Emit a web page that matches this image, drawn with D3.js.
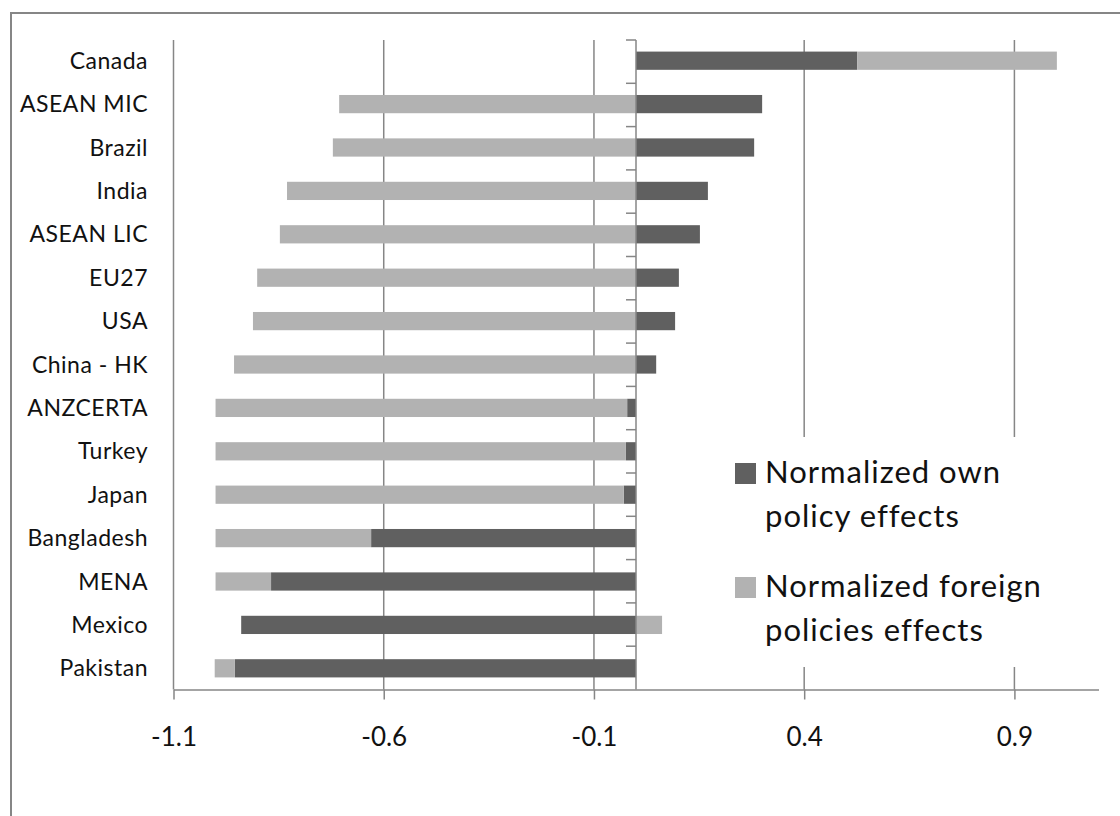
<!DOCTYPE html>
<html>
    <head>
        <meta charset="utf-8">
        <title>Normalized policy effects</title>
        <script src="https://d3js.org/d3.v7.min.js"></script>
        <style>
            html, body {
                margin: 0;
                padding: 0;
                overflow: hidden;
                background: #FFF;
            }
            svg text {
                font-family: Lato, "Open Sans", sans-serif;
                fill: #111;
            }
            .grid line {
                stroke: #868686;
                stroke-width: 1.5;
            }
            .axis path, .axis line {
                stroke: #868686;
                stroke-width: 1.5;
            }
        </style>
    </head>
    <body>
        <svg id="container" width="1120" height="816"></svg>
        <script>
            const categories = ['Canada', 'ASEAN MIC', 'Brazil', 'India', 'ASEAN LIC', 'EU27', 'USA', 'China - HK',
                'ANZCERTA', 'Turkey', 'Japan', 'Bangladesh', 'MENA', 'Mexico', 'Pakistan'];
            const ownEffects = [0.526, 0.300, 0.281, 0.171, 0.152, 0.102, 0.093, 0.048,
                -0.021, -0.024, -0.029, -0.630, -0.868, -0.939, -0.954];
            const foreignEffects = [0.475, -0.706, -0.721, -0.830, -0.847, -0.901, -0.911, -0.956,
                -0.979, -0.976, -0.971, -0.370, -0.132, 0.062, -0.048];
            const tickValues = [-1.1, -0.6, -0.1, 0.4, 0.9];
            const tickLabels = ['-1.1', '-0.6', '-0.1', '0.4', '0.9'];
            const seriesKeys = ['own', 'foreign'];
            const legendLabels = [['Normalized own', 'policy effects'], ['Normalized foreign', 'policies effects']];
            const colors = ['#606060', '#b2b2b2'];

            const rows = categories.map((c, i) => ({ name: c, own: ownEffects[i], foreign: foreignEffects[i] }));

            const svg = d3.select('#container');

            // chart area border (only top and left edge are in the frame)
            svg.append('rect')
                .attr('x', 11)
                .attr('y', 13)
                .attr('width', 1300)
                .attr('height', 1000)
                .attr('fill', 'none')
                .attr('stroke', '#868686')
                .attr('stroke-width', 2);

            const plotTop = 40, plotBottom = 689.5;

            const x = d3.scaleLinear()
                .domain([-1.1, 1.1])
                .range([173.5, 1098.5]);

            const y = d3.scaleBand()
                .domain(categories)
                .range([39, 690])
                .paddingInner(0.58)
                .paddingOuter(0.29);

            svg.append('g')
                .attr('class', 'grid')
                .selectAll('line')
                .data(tickValues)
                .join('line')
                .attr('x1', d => x(d))
                .attr('x2', d => x(d))
                .attr('y1', plotTop)
                .attr('y2', plotBottom);

            const series = d3.stack()
                .keys(seriesKeys)
                .offset(d3.stackOffsetDiverging)(rows);

            svg.append('g')
                .selectAll('g')
                .data(series)
                .join('g')
                .attr('fill', (d, i) => colors[i])
                .selectAll('rect')
                .data(d => d)
                .join('rect')
                .attr('x', d => x(Math.min(d[0], d[1])))
                .attr('width', d => Math.abs(x(d[1]) - x(d[0])))
                .attr('y', d => y(d.data.name))
                .attr('height', y.bandwidth());

            // zero axis with ticks between categories
            const zero = svg.append('g').attr('class', 'axis');
            zero.append('line')
                .attr('x1', x(0))
                .attr('x2', x(0))
                .attr('y1', plotTop)
                .attr('y2', plotBottom);
            zero.selectAll('line.tick')
                .data(d3.range(categories.length))
                .join('line')
                .attr('class', 'tick')
                .attr('x1', x(0) - 10)
                .attr('x2', x(0))
                .attr('y1', i => plotTop + i * (plotBottom - plotTop) / categories.length)
                .attr('y2', i => plotTop + i * (plotBottom - plotTop) / categories.length);

            const xAxis = d3.axisBottom(x)
                .tickValues(tickValues)
                .tickFormat((d, i) => tickLabels[i])
                .tickSize(10)
                .tickSizeOuter(0)
                .tickPadding(28);

            svg.append('g')
                .attr('class', 'axis')
                .attr('transform', `translate(0 ${plotBottom})`)
                .call(xAxis)
                .call(g => g.selectAll('text')
                    .style('font-size', '26px')
                    .style('font-family', 'Lato, sans-serif')
                    .attr('fill', '#111'));

            svg.append('g')
                .selectAll('text')
                .data(categories)
                .join('text')
                .attr('x', 148)
                .attr('y', d => y(d) + y.bandwidth() / 2)
                .attr('dy', '0.35em')
                .attr('text-anchor', 'end')
                .style('font-size', '23px')
                .style('letter-spacing', '0.5px')
                .text(d => d);

            // legend
            const legend = svg.append('g');
            legend.append('rect')
                .attr('x', 720)
                .attr('y', 437)
                .attr('width', 345)
                .attr('height', 230)
                .attr('fill', '#FFF');

            const items = legend.selectAll('g.item')
                .data(legendLabels)
                .join('g')
                .attr('class', 'item')
                .attr('transform', (d, i) => `translate(735 ${463 + i * 114})`);

            items.append('rect')
                .attr('width', 21)
                .attr('height', 21)
                .attr('fill', (d, i) => colors[i]);

            items.append('text')
                .attr('x', 30)
                .attr('y', 20)
                .style('font-size', '31px')
                .style('letter-spacing', '1px')
                .selectAll('tspan')
                .data(d => d)
                .join('tspan')
                .attr('x', 30)
                .attr('dy', (d, i) => i === 0 ? 0 : 44)
                .text(d => d);
        </script>
    </body>
</html>
